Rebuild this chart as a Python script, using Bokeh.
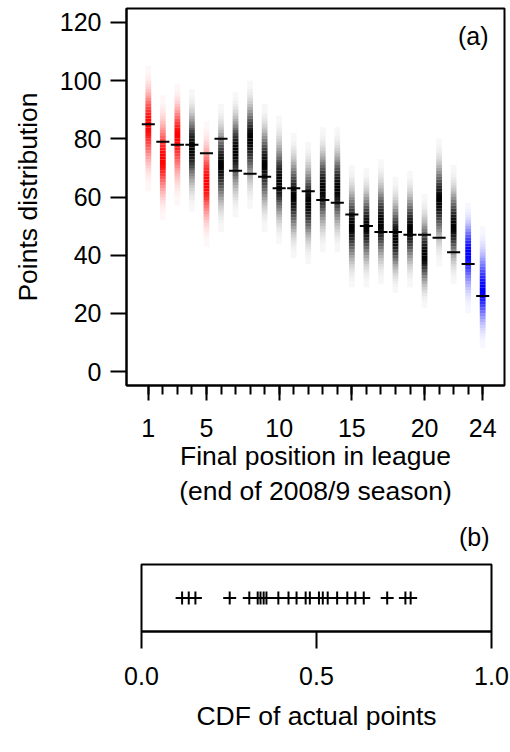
import numpy as np
from bokeh.plotting import figure
from bokeh.models import FixedTicker, Range1d, ColumnDataSource, Label, NumeralTickFormatter, Title
from bokeh.embed import file_html
from bokeh.resources import INLINE

# ---- data ----
positions = list(range(1, 25))
actual_points = [85, 79, 78, 78, 75, 80, 69, 68, 67, 63, 63, 62,
                 59, 58, 54, 50, 48, 48, 47, 47, 46, 41, 37, 26]
dist_hi = [105, 95, 99, 97, 86, 92, 96, 100, 92, 88, 82, 79,
           84, 84, 71, 70, 73, 67, 69, 61, 80, 71, 58, 50]
dist_lo = [62, 52, 57, 55, 43, 48, 53, 56, 48, 44, 39, 37,
           41, 41, 29, 29, 30, 27, 29, 22, 36, 30, 20, 8]
dist_mode = [85, 73, 81, 77, 65, 71, 76, 80, 71, 65, 60, 58,
             63, 63, 50, 50, 51, 46, 49, 40, 59, 50, 41, 28]
team_colour = ["#FF0000", "#FF0000", "#FF0000", "#000000", "#FF0000"] + ["#000000"] * 17 + ["#0000FF", "#0000FF"]
cdf_actual = [0.116, 0.135, 0.154, 0.252, 0.308, 0.332, 0.340, 0.349, 0.357, 0.391, 0.420, 0.443,
              0.469, 0.481, 0.507, 0.518, 0.532, 0.559, 0.588, 0.611, 0.635, 0.702, 0.754, 0.769]
x_ticks = [1, 5, 10, 15, 20, 24]
y_ticks = [0, 20, 40, 60, 80, 100, 120]
cdf_ticks = [0.0, 0.5, 1.0]

FONT = "Liberation Sans"
TICK_FS = "25px"
LAB_FS = "26.5px"

# ---- build gradient cells ----
left, right, bottom, top, col, alpha = [], [], [], [], [], []
bw = 0.2
for x, lo, hi, m, c in zip(positions, dist_lo, dist_hi, dist_mode, team_colour):
    s_up = (hi - m) / 2.9
    s_dn = (m - lo) / 2.9
    for y in range(lo, hi):
        yc = y + 0.5
        s = s_up if yc >= m else s_dn
        a = float(np.exp(-0.5 * ((yc - m) / s) ** 2))
        left.append(x - bw); right.append(x + bw)
        bottom.append(y); top.append(y + 1)
        col.append(c); alpha.append(max(a, 0.03))
cells = ColumnDataSource(dict(left=left, right=right, bottom=bottom, top=top, col=col, alpha=alpha))


def style_axis(ax, tick_out, label_standoff, title_standoff):
    ax.major_tick_out = tick_out; ax.major_tick_in = 0
    ax.major_tick_line_width = 2; ax.major_tick_line_color = "black"
    ax.axis_line_width = 2; ax.axis_line_color = "black"
    ax.major_label_text_font = FONT; ax.major_label_text_font_size = TICK_FS
    ax.major_label_text_color = "black"
    ax.major_label_standoff = label_standoff
    ax.axis_label_text_font = FONT; ax.axis_label_text_font_size = LAB_FS
    ax.axis_label_text_font_style = "normal"; ax.axis_label_text_color = "black"
    ax.axis_label_standoff = title_standoff


p1 = figure(width=510, height=505, x_range=Range1d(-0.5, 25.5), y_range=Range1d(-4.8, 124.8),
            output_backend="svg", toolbar_location=None,
            min_border_left=126, min_border_right=6, min_border_top=8, min_border_bottom=120)
p1.grid.visible = False
p1.outline_line_color = "black"
p1.outline_line_width = 2

p1.quad(left="left", right="right", bottom="bottom", top="top", fill_color="col",
        fill_alpha="alpha", line_color=None, source=cells)
p1.segment(x0=[x - 0.45 for x in positions], x1=[x + 0.45 for x in positions],
           y0=actual_points, y1=actual_points, line_color="black", line_width=2)
p1.add_layout(Label(x=24.4, y=115.5, text="(a)", text_align="right", text_baseline="middle",
                    text_font=FONT, text_font_size=TICK_FS, text_color="black"))

xa = p1.xaxis[0]
xa.ticker = FixedTicker(ticks=x_ticks, minor_ticks=positions)
style_axis(xa, 15, 18, 1)
xa.minor_tick_out = 9; xa.minor_tick_in = 0
xa.minor_tick_line_width = 2; xa.minor_tick_line_color = "black"
xa.axis_label = "Final position in league"
p1.add_layout(Title(text="(end of 2008/9 season)", align="center", text_font=FONT,
                    text_font_size=LAB_FS, text_font_style="normal", text_color="black",
                    standoff=0), "below")

ya = p1.yaxis[0]
ya.ticker = FixedTicker(ticks=y_ticks, minor_ticks=[])
style_axis(ya, 16, 9, 14)
ya.axis_label = "Points distribution"

# ---- bottom panel ----
p2 = figure(width=510, height=247, x_range=Range1d(0, 1), y_range=Range1d(0, 1),
            output_backend="svg", toolbar_location=None,
            min_border_left=141, min_border_right=19, min_border_top=59, min_border_bottom=121)
p2.grid.visible = False
p2.outline_line_color = "black"
p2.outline_line_width = 2
p2.yaxis.visible = False
p2.title.text = "(b)"
p2.title.align = "right"
p2.title.offset = 2
p2.title.text_font = FONT
p2.title.text_font_size = TICK_FS
p2.title.text_font_style = "normal"
p2.title.text_color = "black"
p2.title.standoff = 28

p2.scatter(x=cdf_actual, y=[0.5] * len(cdf_actual), marker="cross", size=13,
           line_color="black", line_width=2)

xb = p2.xaxis[0]
xb.ticker = FixedTicker(ticks=cdf_ticks, minor_ticks=[])
xb.formatter = NumeralTickFormatter(format="0.0")
style_axis(xb, 17, 18, 13)
xb.axis_label = "CDF of actual points"

open("out.html", "w").write(file_html([p1, p2], INLINE))
